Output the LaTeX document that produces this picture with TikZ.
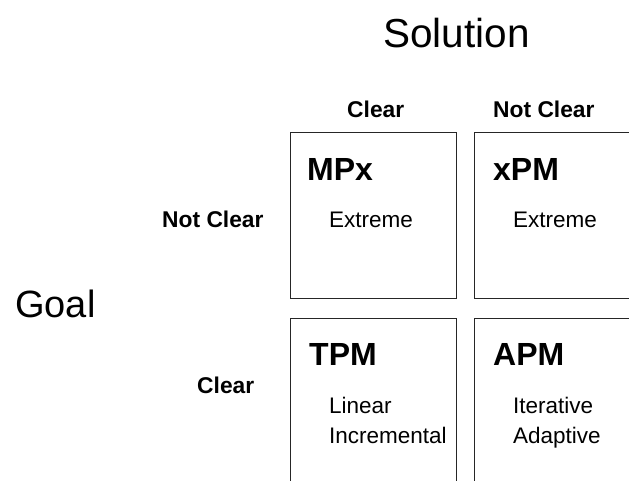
\documentclass[tikz,border=0pt]{standalone}
\usepackage{fontspec}
\setmainfont{Liberation Sans}
\begin{document}
\begin{tikzpicture}[x=1pt,y=-1pt,
  cell/.style={draw=black!85, line width=1pt, minimum width=166pt, minimum height=166pt, inner sep=0pt, outer sep=0pt},
  axis/.style={anchor=base west, inner sep=0pt, font=\fontsize{38}{46}\selectfont},
  head/.style={anchor=base west, inner sep=0pt, font=\fontsize{22.8}{27}\selectfont\bfseries},
  code/.style={anchor=base west, inner sep=0pt, font=\fontsize{32}{38}\selectfont\bfseries},
  kind/.style={anchor=base west, inner sep=0pt, align=left, font=\fontsize{22.5}{30}\selectfont}]
\useasboundingbox (0,0) rectangle (629,481);
\clip (0,0) rectangle (629,481);

% axis titles
\node[axis, font=\fontsize{40.5}{48}\selectfont] (sol) at (383,48) {Solution};
\node[axis] (goal) at (15,317) {Goal};

% column and row headings
\node[head] (colclear) at (347,118) {Clear};
\node[head] (colnot) at (493,118) {Not Clear};
\node[head] (rownot) at (162,228) {Not Clear};
\node[head] (rowclear) at (197,393) {Clear};

% the four quadrants
\node[cell] (q11) at (373,215.5) {};
\node[cell] (q12) at (557,215.5) {};
\node[cell] (q21) at (373,401) {};
\node[cell] (q22) at (557,401) {};

% quadrant contents (two-line labels sit on the baseline of their last line)
\node[code] (mpx) at (307,181) {MPx};
\node[kind] (mpxk) at (329,227) {Extreme};
\node[code] (xpm) at (493,181) {xPM};
\node[kind] (xpmk) at (513,227) {Extreme};
\node[code] (tpm) at (309,365) {TPM};
\node[kind] (tpmk) at (329,443) {Linear\\Incremental};
\node[code] (apm) at (493,365) {APM};
\node[kind] (apmk) at (513,443) {Iterative\\Adaptive};
\end{tikzpicture}
\end{document}
